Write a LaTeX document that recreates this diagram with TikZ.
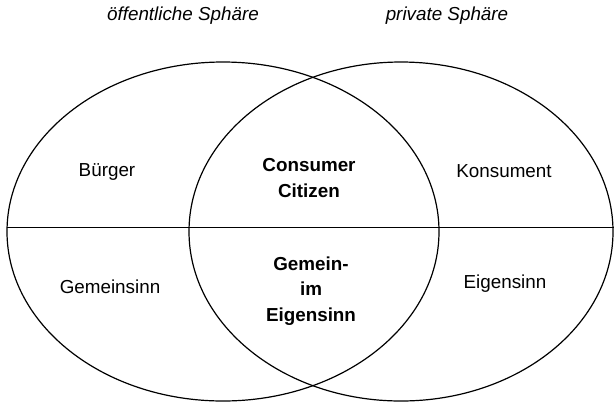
\documentclass[tikz,border=0pt]{standalone}
\usepackage{fontspec}
\setmainfont{Liberation Sans}
\begin{document}
\begin{tikzpicture}[x=1bp,y=-1bp,
  lbl/.style={anchor=base,inner sep=0pt,align=center,font=\fontsize{18.9}{25.5}\selectfont},
  bold/.style={lbl,font=\fontsize{18.9}{25.5}\selectfont\bfseries},
  ital/.style={lbl,font=\fontsize{18.9}{25.5}\selectfont\itshape},
  ring/.style={draw=black,line width=1.2bp},
  divider/.style={draw=black,line width=1.2bp}]
\useasboundingbox (0,0) rectangle (614,403);
% spheres
\draw[ring] (223,231.5) ellipse [x radius=216, y radius=169.5];
\draw[ring] (401,231.5) ellipse [x radius=212, y radius=169.5];
% dividing line
\coordinate (hl) at (7,227.5);
\coordinate (hr) at (614,227.5);
\draw[divider] (hl) -- (hr);
% titles
\node[ital] (toeff) at (183,20) {öffentliche Sphäre};
\node[ital] (tpriv) at (447,20) {private Sphäre};
% labels
\node[lbl] (buerger) at (107,176) {Bürger};
\node[bold] (cc) at (309,197) {Consumer\\Citizen};
\node[lbl] (kons) at (504,177) {Konsument};
\node[lbl] (gemein) at (110,293) {Gemeinsinn};
\node[bold] (gie) at (311,321) {Gemein-\\im\\Eigensinn};
\node[lbl] (eigen) at (505,288) {Eigensinn};
\end{tikzpicture}
\end{document}
